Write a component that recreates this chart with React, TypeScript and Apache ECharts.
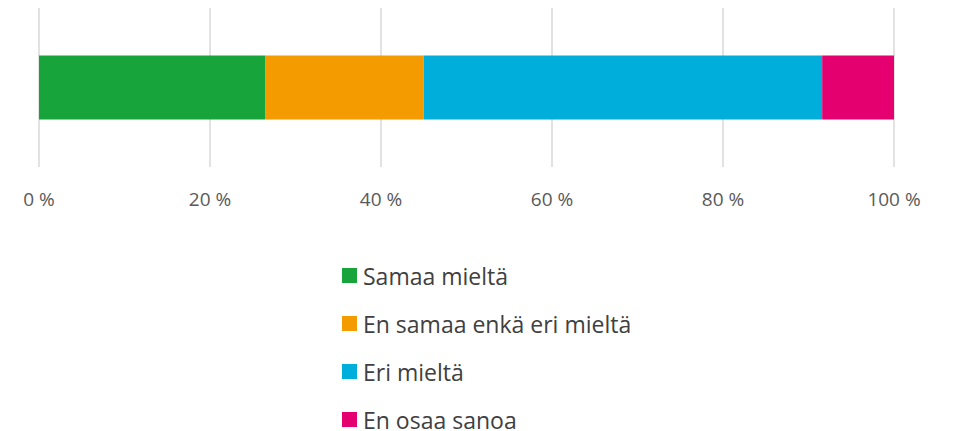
import React, { useEffect, useRef } from "react";
import * as echarts from "echarts";

const categories = [""];
const seriesNames = ["Samaa mieltä", "En samaa enkä eri mieltä", "Eri mieltä", "En osaa sanoa"];
const samaa = [26.5];
const enSamaa = [18.5];
const eri = [46.6];
const enOsaa = [8.4];
const tickFormat = (v: number) => `${v} %`;
const colors = ["#17a43a", "#f49b00", "#00aedb", "#e4006e"];

export default function App() {
  const ref = useRef<HTMLDivElement>(null);
  useEffect(() => {
    if (!ref.current) return;
    const chart = echarts.init(ref.current, null, { renderer: "svg" });
    const values = [samaa, enSamaa, eri, enOsaa];
    chart.setOption({
      animation: false,
      textStyle: { fontFamily: "Open Sans" },
      grid: { left: 31, right: 69, top: 0, height: 159 },
      xAxis: {
        type: "value",
        min: 0,
        max: 100,
        interval: 20,
        axisLine: { show: false },
        axisTick: { show: false },
        splitLine: { lineStyle: { color: "#d9d9d9", width: 1.5 } },
        axisLabel: {
          formatter: tickFormat,
          color: "#595959",
          fontSize: 19,
          margin: 22,
          fontFamily: "Open Sans",
        },
      },
      yAxis: {
        type: "category",
        data: categories,
        axisLine: { show: false },
        axisTick: { show: false },
        axisLabel: { show: false },
      },
      legend: seriesNames.map((name, i) => ({
        orient: "vertical",
        left: 334,
        top: 256 + i * 48,
        itemWidth: 15,
        itemHeight: 15,
        padding: 0,
        icon: "rect",
        textStyle: { fontSize: 23, lineHeight: 22, color: "#404040", fontFamily: "Open Sans", padding: [0, 0, 0, 1] },
        data: [name],
      })),
      series: seriesNames.map((name, i) => ({
        name,
        type: "bar",
        stack: "total",
        barWidth: 64,
        itemStyle: { color: colors[i] },
        data: values[i],
      })),
    });
    return () => chart.dispose();
  }, []);
  return <div ref={ref} style={{ width: 955, height: 423 }} />;
}
